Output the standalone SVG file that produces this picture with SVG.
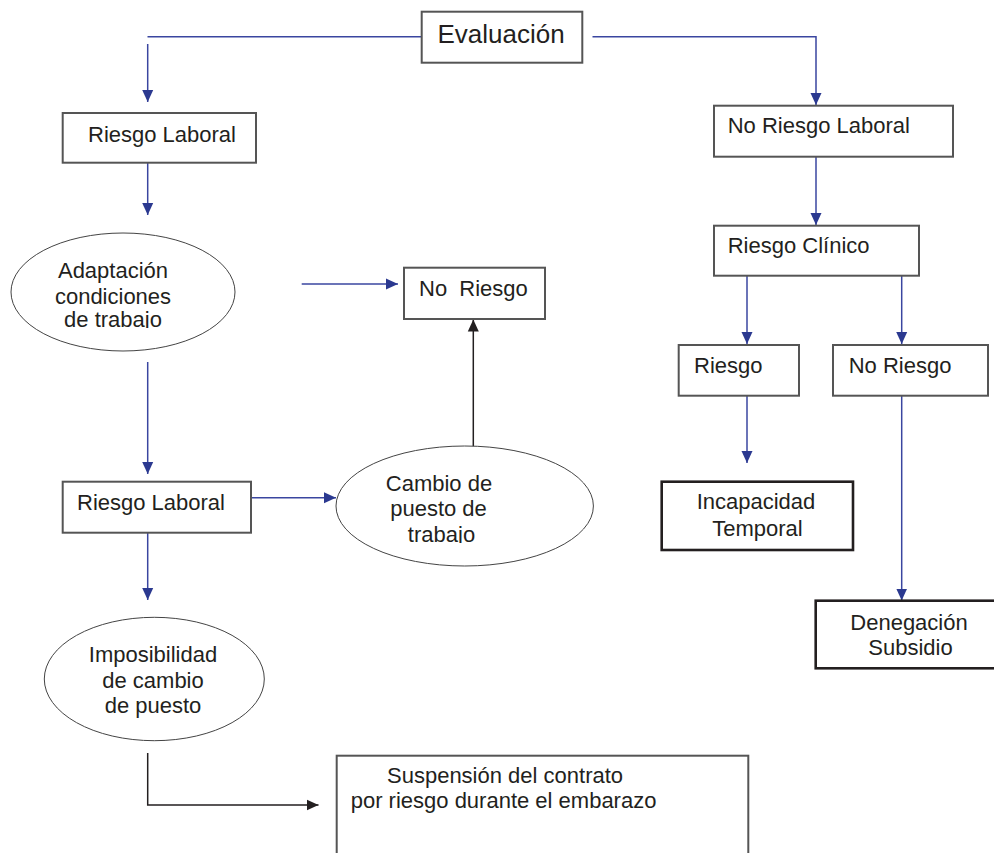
<svg xmlns="http://www.w3.org/2000/svg" width="994" height="853" viewBox="0 0 994 853">
<style>
  .box { fill: #fff; stroke: #555; stroke-width: 2; }
  .bbox { fill: #fff; stroke: #231f20; stroke-width: 2.6; }
  .ell { fill: #fff; stroke: #444; stroke-width: 1; }
  .t { font-family: "Liberation Sans", Arial, sans-serif; font-size: 22px; fill: #231f20; }
  .tc { text-anchor: middle; }
  .blue { fill: none; stroke: #3a46a0; stroke-width: 1.5; }
  .black { fill: none; stroke: #231f20; stroke-width: 1.5; }
</style>
<defs>
  <marker id="ab" markerUnits="userSpaceOnUse" markerWidth="12" markerHeight="12" viewBox="0 0 12 12" refX="12" refY="6" orient="auto">
    <path d="M0,0.5 L12,6 L0,11.5 Z" fill="#2b3990"/>
  </marker>
  <marker id="ak" markerUnits="userSpaceOnUse" markerWidth="12" markerHeight="12" viewBox="0 0 12 12" refX="12" refY="6" orient="auto">
    <path d="M0,0.5 L12,6 L0,11.5 Z" fill="#231f20"/>
  </marker>
  <clipPath id="clipA"><rect x="0" y="0" width="994" height="328"/></clipPath>
  <clipPath id="clipC"><rect x="0" y="0" width="994" height="543"/></clipPath>
</defs>
<rect width="994" height="853" fill="#fff"/>

<g id="connectors">
  <polyline class="blue" points="421,36.7 147.5,36.7"/>
  <line class="blue" x1="147.7" y1="44" x2="147.7" y2="102" marker-end="url(#ab)"/>
  <polyline class="blue" points="592.5,36.7 816,36.7 816,105" marker-end="url(#ab)"/>
  <line class="blue" x1="147.7" y1="163" x2="147.7" y2="215" marker-end="url(#ab)"/>
  <line class="blue" x1="301.7" y1="284" x2="398" y2="284" marker-end="url(#ab)"/>
  <line class="blue" x1="147.7" y1="362" x2="147.7" y2="474" marker-end="url(#ab)"/>
  <line class="blue" x1="251" y1="497.7" x2="336" y2="497.7" marker-end="url(#ab)"/>
  <line class="black" x1="473.3" y1="455" x2="473.3" y2="319.5" marker-end="url(#ak)"/>
  <line class="blue" x1="147.7" y1="533" x2="147.7" y2="600" marker-end="url(#ab)"/>
  <polyline class="black" points="147.7,753 147.7,805 318.5,805" marker-end="url(#ak)"/>
  <line class="blue" x1="816" y1="157" x2="816" y2="225" marker-end="url(#ab)"/>
  <line class="blue" x1="747" y1="276" x2="747" y2="344" marker-end="url(#ab)"/>
  <line class="blue" x1="901.7" y1="276" x2="901.7" y2="344" marker-end="url(#ab)"/>
  <line class="blue" x1="747" y1="396" x2="747" y2="463" marker-end="url(#ab)"/>
  <line class="blue" x1="901.7" y1="396" x2="901.7" y2="600.5" marker-end="url(#ab)"/>
</g>

<g id="evaluacion">
  <rect class="box" x="421.7" y="11.7" width="160.6" height="51"/>
  <text class="t tc" x="501" y="43.3" style="font-size:26px">Evaluación</text>
</g>

<g id="riesgo-laboral-1">
  <rect class="box" x="62.7" y="113" width="193.3" height="49.7"/>
  <text class="t" x="88" y="141.7">Riesgo Laboral</text>
</g>

<g id="adaptacion">
  <ellipse class="ell" cx="123" cy="292" rx="112" ry="59"/>
  <text class="t tc" x="113" y="277.7">Adaptación</text>
  <text class="t tc" x="113" y="304">condiciones</text>
  <text class="t tc" x="113" y="327" clip-path="url(#clipA)">de trabajo</text>
</g>

<g id="no-riesgo-centro">
  <rect class="box" x="404" y="267.7" width="141" height="51.3"/>
  <text class="t" x="419" y="296" xml:space="preserve">No  Riesgo</text>
</g>

<g id="riesgo-laboral-2">
  <rect class="box" x="62.7" y="481.7" width="188.3" height="51"/>
  <text class="t" x="77" y="510">Riesgo Laboral</text>
</g>

<g id="cambio">
  <ellipse class="ell" cx="464.7" cy="506" rx="128.7" ry="60"/>
  <text class="t tc" x="439" y="490.7">Cambio de</text>
  <text class="t tc" x="438.5" y="516">puesto de</text>
  <text class="t tc" x="441.5" y="541.7" clip-path="url(#clipC)">trabajo</text>
</g>

<g id="imposibilidad">
  <ellipse class="ell" cx="154.3" cy="679" rx="110" ry="61.7"/>
  <text class="t tc" x="153" y="662.3">Imposibilidad</text>
  <text class="t tc" x="153" y="688.3">de cambio</text>
  <text class="t tc" x="153" y="713.3">de puesto</text>
</g>

<g id="suspension">
  <rect class="box" x="336.7" y="755.7" width="411.6" height="110"/>
  <text class="t" x="387" y="783">Suspensión del contrato</text>
  <text class="t" x="350.7" y="808">por riesgo durante el embarazo</text>
</g>

<g id="no-riesgo-laboral">
  <rect class="box" x="714" y="105.7" width="239" height="51"/>
  <text class="t" x="727.7" y="133">No Riesgo Laboral</text>
</g>

<g id="riesgo-clinico">
  <rect class="box" x="714" y="225.7" width="205" height="50"/>
  <text class="t" x="727.7" y="253.3">Riesgo Clínico</text>
</g>

<g id="riesgo-derecha">
  <rect class="box" x="678.7" y="345" width="120.3" height="50.7"/>
  <text class="t" x="694" y="372.7">Riesgo</text>
</g>

<g id="no-riesgo-derecha">
  <rect class="box" x="833" y="345" width="155" height="50.7"/>
  <text class="t" x="848.7" y="372.7">No Riesgo</text>
</g>

<g id="incapacidad">
  <rect class="bbox" x="661.7" y="481.7" width="191.3" height="68.3"/>
  <text class="t tc" x="756" y="509.3">Incapacidad</text>
  <text class="t tc" x="757.5" y="536">Temporal</text>
</g>

<g id="denegacion">
  <rect class="bbox" x="815.7" y="600.7" width="190" height="67.6"/>
  <text class="t tc" x="909" y="630">Denegación</text>
  <text class="t tc" x="910.5" y="655">Subsidio</text>
</g>
</svg>
